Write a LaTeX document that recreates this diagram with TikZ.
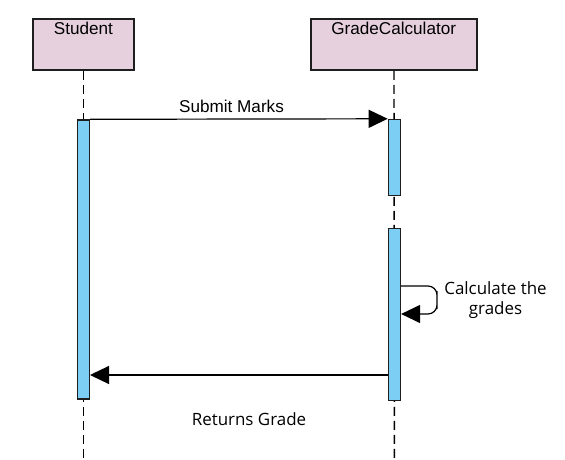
\documentclass[tikz,border=0pt]{standalone}
\usepackage{fontspec}
\setmainfont{Liberation Sans}
\newfontfamily\osans{Open Sans}
\usetikzlibrary{arrows.meta,calc}
\definecolor{boxfill}{RGB}{230,208,222}
\definecolor{barfill}{RGB}{125,206,245}
\definecolor{edge}{RGB}{30,30,30}
\tikzset{
  actor/.style={draw=edge,line width=1.9bp,fill=boxfill,inner sep=0pt},
  actbar/.style={draw=edge,line width=1.4bp,fill=barfill,inner sep=0pt,minimum width=12bp},
  lifeline/.style={draw=black,line width=1.4bp,dash pattern=on 9bp off 5bp},
  msg/.style={draw=black,line width=1.2bp,-{Triangle[length=19bp,width=18bp]}},
  lbl/.style={inner sep=0pt,font=\fontsize{17.2}{20}\selectfont},
  olbl/.style={inner sep=0pt,font=\osans\fontsize{17}{20}\selectfont,align=center}
}
\begin{document}
\begin{tikzpicture}[x=1bp,y=-1bp]
\useasboundingbox[fill=white] (0,0) rectangle (565,460);
% actor boxes
\node[actor,minimum width=101bp,minimum height=51bp] (stud) at (83.4,44.5) {};
\node[actor,minimum width=166bp,minimum height=51bp] (calc) at (394,44.5) {};
\node[lbl,anchor=base] (studtxt) at (83.4,35) {Student};
\node[lbl,anchor=base] (calctxt) at (393.7,35) {GradeCalculator};
% lifeline ends
\coordinate (studend) at (83.4,460);
\coordinate (calcend) at (394.4,460);
\draw[lifeline] (stud.south) -- (studend);
\draw[lifeline] (calc.south) -- (calcend);
% activation bars
\node[actbar,minimum height=279bp] (sbar) at (83.3,259.5) {};
\node[actbar,minimum height=76bp] (gbar1) at (394.4,157.5) {};
\node[actbar,minimum height=171.5bp] (gbar2) at (394.4,314.5) {};
% messages
\draw[msg] (sbar.north east) -- (gbar1.north west);
\node[lbl,anchor=base] (submit) at (231.5,113) {Submit Marks};
% self loop
\coordinate (loopa) at ($(gbar2.east|-0,286)$);
\coordinate (loopb) at (437,300);
\coordinate (loopc) at ($(gbar2.east|-0,314)$);
\draw[msg,rounded corners=9bp] (loopa) -| (loopb) |- (loopc);
\node[olbl,anchor=north] (calcgr) at (495.5,281.5) {Calculate the\\grades};
% return
\coordinate (reta) at ($(gbar2.west|-0,375)$);
\coordinate (retb) at ($(sbar.east|-0,375)$);
\draw[msg] (reta) -- (retb);
\node[olbl,anchor=base] (ret) at (249,425) {Returns Grade};
\end{tikzpicture}
\end{document}
